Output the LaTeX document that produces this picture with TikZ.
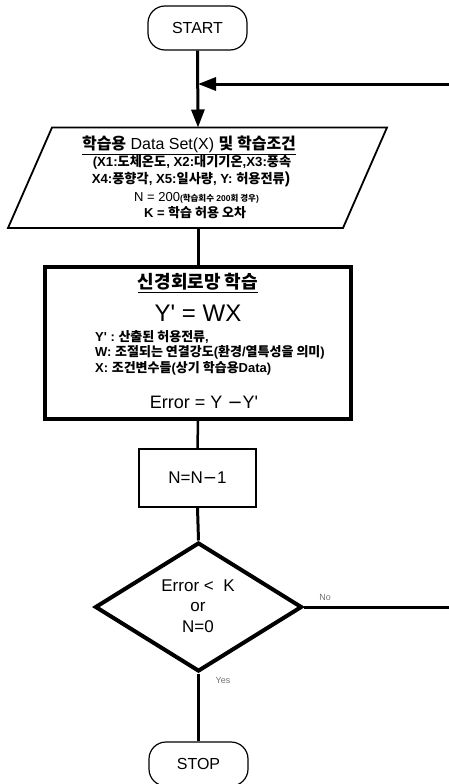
\documentclass[tikz,border=0pt]{standalone}
\usepackage{fontspec}
\setmainfont{Liberation Sans}
\newfontfamily\kr{Noto Sans CJK KR}
\newfontfamily\plainfont{Liberation Sans}
\usetikzlibrary{shapes.geometric,arrows.meta}
\newcommand\K[1]{{\kr\bfseries #1}}
\newcommand\fs[1]{\fontsize{#1}{#1}\selectfont}
\newcommand\pr{{\plainfont\char"0027}}
\begin{document}
\begin{tikzpicture}[x=1pt,y=-1pt,
  term/.style={draw, rounded corners=17pt, minimum width=99pt, minimum height=44pt, inner sep=0pt, line width=1.2pt, font=\fs{16}},
  flow/.style={line width=3pt},
  tip/.style={-{Triangle[length=18pt,width=13pt]}},
  txt/.style={inner sep=0pt},
  lab/.style={inner sep=0pt, text=black!55, font=\fs{9}}]
\useasboundingbox (0,0) rectangle (449,784);
% START
\node[term] (start) at (197.5,28) {START};
% parallelogram
\draw[line width=1.8pt] (52,127.5) -- (387,127.5) -- (343,228) -- (8,228) -- cycle;
\coordinate (paratop) at (198,127.5);
\coordinate (parabot) at (198,228);
\node[txt, font=\fs{16}] (t1) at (189,145) {\underline{\K{학습용} Data Set(X) \K{및 학습조건}}};
\node[txt, font=\fs{13.2}\bfseries] (t2) at (192,162) {(X1:\K{도체온도}, X2:\K{대기기온},X3:\K{풍속}};
\node[txt, font=\fs{13.2}\bfseries] (t3) at (191,179) {X4:\K{풍향각}, X5:\K{일사량}, Y: \K{허용전류}{\fs{16})}};
\node[txt] (t4) at (196.5,198) {{\fs{13}N = 200}{\fs{8.5}\bfseries(\K{학습회수} 200\K{회 경우})}};
\node[txt, font=\fs{13}\bfseries] (t5) at (195,213) {K = \K{학습 허용 오차}};
% neural network box
\node[draw, line width=4pt, minimum width=306pt, minimum height=152pt, inner sep=0pt] (nn) at (198,343) {};
\node[txt, font=\fs{18}] (n1) at (198,283) {\underline{\K{신경회로망 학습}}};
\node[txt, font=\fs{24}] (n2) at (198,313) {Y\pr{} = WX};
\node[txt, anchor=west, font=\fs{13}\bfseries] (n3) at (95,337) {Y\pr{} : \K{산출된 허용전류},};
\node[txt, anchor=west, font=\fs{13}\bfseries] (n4) at (95,352) {W: \K{조절되는 연결강도}(\K{환경}/\K{열특성을 의미})};
\node[txt, anchor=west, font=\fs{13}\bfseries] (n5) at (95,368) {X: \K{조건변수들}(\K{상기 학습용}Data)};
\node[txt, font=\fs{18}] (n6) at (204,402) {Error = Y {\fontspec{DejaVu Sans}−}Y\pr};
% N=N-1
\node[draw, line width=1.3pt, minimum width=117pt, minimum height=58pt, inner sep=0pt, font=\fs{17}] (nbox) at (197.5,478) {N=N{\fontspec{DejaVu Sans}−}1};
% diamond
\node[draw, diamond, line width=4pt, minimum width=207pt, minimum height=129pt, inner sep=0pt] (dec) at (198.5,607) {};
\node[txt, align=center, font=\fontsize{17}{20.5}\selectfont] (dtxt) at (198,606) {Error \textless{}\ \ K\\or\\N=0};
% STOP
\node[term] (stop) at (198.5,764) {STOP};
% connectors
\coordinate (retin) at (449,84);
\coordinate (join) at (198,84);
\coordinate (noend) at (449,607);
\draw[flow, tip] (start.south) -- (paratop);
\draw[flow, tip] (retin) -- (join);
\draw[flow] (parabot) -- (nn.north);
\draw[line width=2.5pt] (nn.south) -- (nbox.north);
\draw[flow] (nbox.south) -- (dec.north);
\draw[flow] (dec.east) -- (noend);
\draw[line width=3.5pt] (dec.south) -- (stop.north);
\node[lab] (no) at (325,597) {No};
\node[lab] (yes) at (223,680) {Yes};
\end{tikzpicture}
\end{document}
